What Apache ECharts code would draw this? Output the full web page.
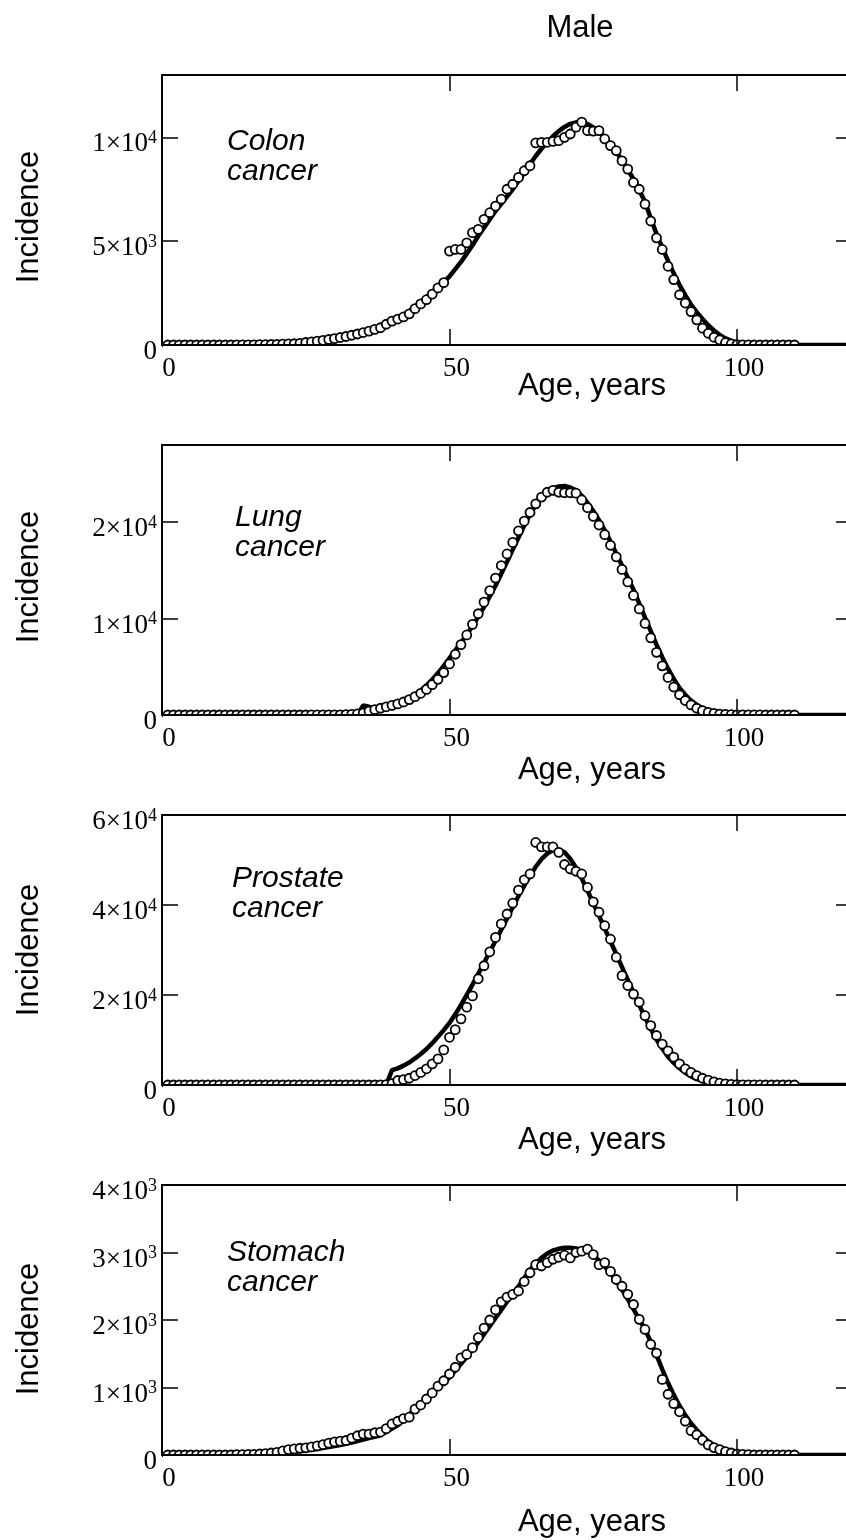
<!DOCTYPE html>
<html>
<head>
<meta charset="utf-8">
<script src="https://cdn.jsdelivr.net/npm/echarts@6/dist/echarts.min.js"></script>
<style>
  html, body { margin: 0; padding: 0; background: #fff; }
  #chart { width: 846px; height: 1540px; }
</style>
</head>
<body>
<div id="chart"></div>
<script>
// x positions: one observation per year of age, fitted curve sampled per year
const obsAges = [];
for (let a = 1; a <= 110; a++) obsAges.push(a);
const fitAges = [];
for (let a = 0; a <= 120; a++) fitAges.push(a);

const xTickLabels = [0, 50, 100];
const panelNames = ['Colon', 'Lung', 'Prostate', 'Stomach'];
const yMax = [13000, 28000, 60000, 4000];
const yStep = [5000, 10000, 20000, 1000];

// colon
const colonObs = [
  0, 0, 0, 0, 0, 0, 0, 0, 0, 0,
  0, 0, 5, 5, 10, 10, 15, 20, 25, 30,
  40, 50, 60, 80, 120, 150, 185, 225, 265, 310,
  360, 410, 470, 530, 600, 670, 750, 830, 1000, 1150,
  1250, 1350, 1500, 1750, 1980, 2180, 2450, 2750, 3000, 4520,
  4600, 4600, 4920, 5410, 5570, 6050, 6370, 6690, 7020, 7500,
  7740, 8070, 8390, 8630, 9730, 9760, 9760, 9800, 9840, 10000,
  10160, 10490, 10730, 10320, 10300, 10320, 9920, 9600, 9360, 8870,
  8470, 7830, 7500, 6780, 5970, 5160, 4600, 3790, 3150, 2420,
  2020, 1610, 1210, 808, 566, 373, 242, 111, 50, 20,
  10, 5, 0, 0, 0, 0, 0, 0, 0, 0
];
const colonFit = [
  0, 0, 0, 0, 0, 0, 0, 0, 0, 0, 0,
  5, 8, 10, 13, 16, 20, 25, 30, 35, 40,
  50, 60, 75, 90, 110, 135, 165, 200, 240, 280,
  330, 380, 440, 500, 560, 650, 750, 860, 970, 1080,
  1250, 1430, 1630, 1850, 2050, 2300, 2550, 2800, 3050, 3300,
  3650, 4000, 4400, 4800, 5250, 5650, 6050, 6450, 6800, 7150,
  7500, 7900, 8300, 8700, 9100, 9450, 9750, 10050, 10300, 10500,
  10650, 10720, 10730, 10650, 10480, 10250, 9980, 9650, 9300, 8900,
  8450, 7980, 7450, 6900, 6100, 5350, 4700, 4050, 3450, 2900,
  2400, 1950, 1580, 1250, 950, 700, 480, 320, 200, 120,
  70, 40, 20, 10, 5, 0, 0, 0, 0, 0,
  0, 0, 0, 0, 0, 0, 0, 0, 0, 0
];

// lung
const lungObs = [
  0, 0, 0, 0, 0, 0, 0, 0, 0, 0,
  0, 0, 0, 0, 0, 0, 0, 0, 0, 0,
  0, 0, 0, 0, 0, 5, 5, 10, 10, 15,
  20, 40, 70, 110, 200, 400, 550, 700, 850, 1000,
  1150, 1350, 1600, 1900, 2250, 2650, 3150, 3700, 4400, 5300,
  6300, 7300, 8300, 9400, 10500, 11700, 12900, 14200, 15500, 16700,
  17900, 19100, 20100, 21000, 21900, 22600, 23100, 23300, 23100, 23050,
  23050, 23000, 22300, 21500, 20600, 19700, 18700, 17600, 16400, 15100,
  13800, 12400, 11000, 9500, 8000, 6500, 5100, 3900, 2900, 2100,
  1500, 1050, 700, 450, 280, 170, 100, 60, 30, 20,
  10, 10, 5, 5, 0, 0, 0, 0, 0, 0
];
const lungFit = [
  0, 0, 0, 0, 0, 0, 0, 0, 0, 0, 0,
  0, 0, 0, 0, 0, 0, 0, 0, 0, 0,
  0, 0, 0, 0, 0, 0, 0, 0, 0, 0,
  0, 0, 0, 0, 1000, 850, 650, 750, 870, 1020,
  1200, 1420, 1700, 2100, 2550, 3080, 3680, 4350, 5100, 5900,
  6700, 7500, 8350, 9200, 10200, 11200, 12300, 13400, 14650, 15900,
  17150, 18400, 19650, 20800, 21750, 22500, 23050, 23500, 23700, 23750,
  23600, 23300, 22750, 22000, 21150, 20200, 19150, 18000, 16750, 15500,
  14250, 13000, 11550, 10100, 8700, 7300, 6000, 4800, 3750, 2800,
  2100, 1500, 1050, 700, 450, 300, 200, 120, 70, 40,
  20, 10, 0, 0, 0, 0, 0, 0, 0, 0,
  0, 0, 0, 0, 0, 0, 0, 0, 0, 0
];

// prostate
const prostateObs = [
  0, 0, 0, 0, 0, 0, 0, 0, 0, 0,
  0, 0, 0, 0, 0, 0, 0, 0, 0, 0,
  0, 0, 0, 0, 0, 0, 0, 0, 0, 0,
  0, 0, 0, 0, 0, 0, 0, 50, 100, 300,
  1000, 1200, 1500, 2100, 2800, 3600, 4700, 5800, 7800, 10600,
  12300, 14700, 17300, 19800, 23600, 26500, 29600, 32800, 35800, 38000,
  40400, 43300, 45600, 46900, 53900, 52900, 52900, 52900, 51700, 49000,
  48000, 47500, 46900, 43900, 40700, 38400, 35400, 32400, 28400, 24300,
  22100, 20200, 18400, 15400, 13200, 11000, 9100, 7600, 6200, 4700,
  3600, 2800, 2100, 1500, 1100, 700, 400, 250, 150, 100,
  50, 30, 20, 10, 5, 0, 0, 0, 0, 0
];
const prostateFit = [
  0, 0, 0, 0, 0, 0, 0, 0, 0, 0, 0,
  0, 0, 0, 0, 0, 0, 0, 0, 0, 0,
  0, 0, 0, 0, 0, 0, 0, 0, 0, 0,
  0, 0, 0, 0, 0, 0, 0, 0, 0, 3300,
  3700, 4300, 5000, 5900, 6900, 8000, 9300, 10700, 12200, 13800,
  15700, 17800, 20000, 22300, 24700, 27100, 29600, 32000, 34500, 37000,
  39500, 42000, 44300, 46500, 48500, 50200, 51400, 52200, 52300, 51700,
  50300, 48300, 45900, 43200, 40400, 37600, 34800, 31900, 29100, 26200,
  23400, 20600, 17800, 15000, 12500, 10100, 8100, 6300, 4900, 3700,
  2700, 1900, 1300, 900, 600, 400, 250, 150, 80, 40,
  20, 0, 0, 0, 0, 0, 0, 0, 0, 0,
  0, 0, 0, 0, 0, 0, 0, 0, 0, 0
];

// stomach
const stomachObs = [
  0, 0, 0, 0, 0, 0, 0, 0, 0, 0,
  0, 0, 5, 5, 10, 10, 15, 20, 30, 40,
  60, 80, 90, 100, 107, 120, 135, 155, 175, 195,
  205, 215, 250, 285, 310, 310, 330, 340, 390, 460,
  500, 540, 560, 680, 740, 830, 920, 1020, 1100, 1200,
  1300, 1440, 1490, 1590, 1740, 1880, 2000, 2150, 2270, 2340,
  2380, 2430, 2570, 2700, 2820, 2800, 2850, 2900, 2930, 2960,
  2920, 3000, 3020, 3050, 2970, 2820, 2850, 2720, 2600, 2500,
  2380, 2230, 2010, 1860, 1640, 1510, 1120, 900, 760, 640,
  500, 360, 300, 220, 150, 110, 80, 50, 30, 15,
  10, 5, 0, 0, 0, 0, 0, 0, 0, 0
];
const stomachFit = [
  0, 0, 0, 0, 0, 0, 0, 0, 0, 0, 0,
  0, 0, 3, 5, 8, 10, 14, 18, 23, 28,
  34, 40, 48, 57, 67, 78, 90, 103, 117, 132,
  148, 165, 183, 205, 228, 250, 268, 290, 340, 390,
  440, 510, 600, 680, 760, 840, 920, 1000, 1070, 1150,
  1250, 1350, 1450, 1560, 1670, 1790, 1910, 2030, 2150, 2270,
  2380, 2500, 2620, 2740, 2840, 2920, 2985, 3030, 3055, 3070,
  3070, 3060, 3040, 3015, 2960, 2880, 2790, 2700, 2580, 2450,
  2310, 2160, 2010, 1860, 1680, 1480, 1270, 1070, 890, 730,
  590, 470, 370, 280, 200, 145, 100, 70, 45, 28,
  15, 8, 4, 0, 0, 0, 0, 0, 0, 0,
  0, 0, 0, 0, 0, 0, 0, 0, 0, 0
];

const obsSets = [colonObs, lungObs, prostateObs, stomachObs];
const fitSets = [colonFit, lungFit, prostateFit, stomachFit];

const SANS = '"Liberation Sans", Arial, sans-serif';
const SERIF = '"Liberation Serif", "Times New Roman", serif';

// layout (pixels); the frame runs a little past the right edge of the page
const gridLeft = 162;
const gridWidth = 690;
const gridTop = [75, 445, 815, 1185];
const gridH = 270;
const incidenceY = [217, 577, 950, 1329];
const ageTitleY = [386, 770, 1140, 1522];
const nameTop = [127, 503, 864, 1238];
const nameLeft = [227, 235, 232, 227];

// 1×10^4 style labels
function sciLabel(v) {
  if (v === 0) return '0';
  const e = Math.floor(Math.log10(v) + 1e-9);
  const m = Math.round(v / Math.pow(10, e));
  return '{b|' + m + '×10}{s|' + e + '}';
}

const frameLine = { onZero: false, lineStyle: { color: '#000', width: 2 } };
const innerTick = { inside: true, length: 16, lineStyle: { color: '#000', width: 1.5 } };

const grids = [], xAxes = [], yAxes = [], series = [], graphics = [];

panelNames.forEach((name, i) => {
  grids.push({
    left: gridLeft, width: gridWidth, top: gridTop[i], height: gridH,
    containLabel: false, outerBoundsMode: 'none'
  });

  xAxes.push({
    gridIndex: i, type: 'value', min: 0, max: 120, interval: 50, position: 'bottom', z: 10,
    axisLine: frameLine, axisTick: innerTick, splitLine: { show: false },
    axisLabel: {
      color: '#000', fontFamily: SERIF, fontSize: 27, margin: 10, padding: [0, 0, 0, 14],
      formatter: v => xTickLabels.includes(v) ? String(v) : ''
    }
  });
  xAxes.push({
    gridIndex: i, type: 'value', min: 0, max: 120, interval: 50, position: 'top', z: 10,
    axisLine: frameLine, axisTick: innerTick, splitLine: { show: false },
    axisLabel: { show: false }
  });

  const step = yStep[i];
  yAxes.push({
    gridIndex: i, type: 'value', min: 0, max: yMax[i], interval: step, position: 'left', z: 10,
    axisLine: frameLine, axisTick: innerTick, splitLine: { show: false },
    axisLabel: {
      color: '#000', fontFamily: SERIF, fontSize: 27, margin: 5, padding: [14, 0, 0, 0],
      formatter: v => (v % step === 0) ? sciLabel(v) : '',
      rich: {
        b: { fontFamily: SERIF, fontSize: 27, color: '#000', lineHeight: 30 },
        s: { fontFamily: SERIF, fontSize: 18, color: '#000', verticalAlign: 'top', lineHeight: 18 }
      }
    }
  });
  yAxes.push({
    gridIndex: i, type: 'value', min: 0, max: yMax[i], interval: step, position: 'right', z: 10,
    axisLine: frameLine, axisTick: innerTick, splitLine: { show: false },
    axisLabel: { show: false }
  });

  series.push({
    type: 'line', xAxisIndex: 2 * i, yAxisIndex: 2 * i,
    data: fitAges.map((a, k) => [a, fitSets[i][k]]),
    showSymbol: false, smooth: false, silent: true, z: 2,
    lineStyle: { color: '#000', width: 4.5 }
  });
  series.push({
    type: 'scatter', xAxisIndex: 2 * i, yAxisIndex: 2 * i,
    data: obsAges.map((a, k) => [a, obsSets[i][k]]),
    symbol: 'circle', symbolSize: 9, silent: true, z: 3,
    itemStyle: { color: '#fff', borderColor: '#000', borderWidth: 1.8, opacity: 1 }
  });

  const bottom = gridTop[i] + gridH;
  // hide the halves of the zero-level marks that fall under the frame
  graphics.push({
    type: 'rect', z: 5, silent: true,
    shape: { x: gridLeft + 1, y: bottom + 1, width: 700, height: 8 },
    style: { fill: '#fff' }
  });
  graphics.push({
    type: 'text', z: 20, x: nameLeft[i], y: nameTop[i],
    style: {
      text: name + '\ncancer', font: 'italic 30px ' + SANS, lineHeight: 30,
      fill: '#000', align: 'left', textAlign: 'left', verticalAlign: 'top', textVerticalAlign: 'top'
    }
  });
  graphics.push({
    type: 'text', z: 20, x: 29, y: incidenceY[i], rotation: Math.PI / 2,
    style: {
      text: 'Incidence', font: '31px ' + SANS, fill: '#000',
      align: 'center', textAlign: 'center', verticalAlign: 'middle', textVerticalAlign: 'middle'
    }
  });
  graphics.push({
    type: 'text', z: 20, x: 592, y: ageTitleY[i],
    style: {
      text: 'Age, years', font: '31px ' + SANS, fill: '#000',
      align: 'center', textAlign: 'center', verticalAlign: 'middle', textVerticalAlign: 'middle'
    }
  });
});

graphics.push({
  type: 'text', z: 20, x: 580, y: 28,
  style: {
    text: 'Male', font: '31px ' + SANS, fill: '#000',
    align: 'center', textAlign: 'center', verticalAlign: 'middle', textVerticalAlign: 'middle'
  }
});

const chart = echarts.init(document.getElementById('chart'));
chart.setOption({
  animation: false,
  backgroundColor: '#fff',
  grid: grids,
  xAxis: xAxes,
  yAxis: yAxes,
  series: series,
  graphic: graphics
});
</script>
</body>
</html>
